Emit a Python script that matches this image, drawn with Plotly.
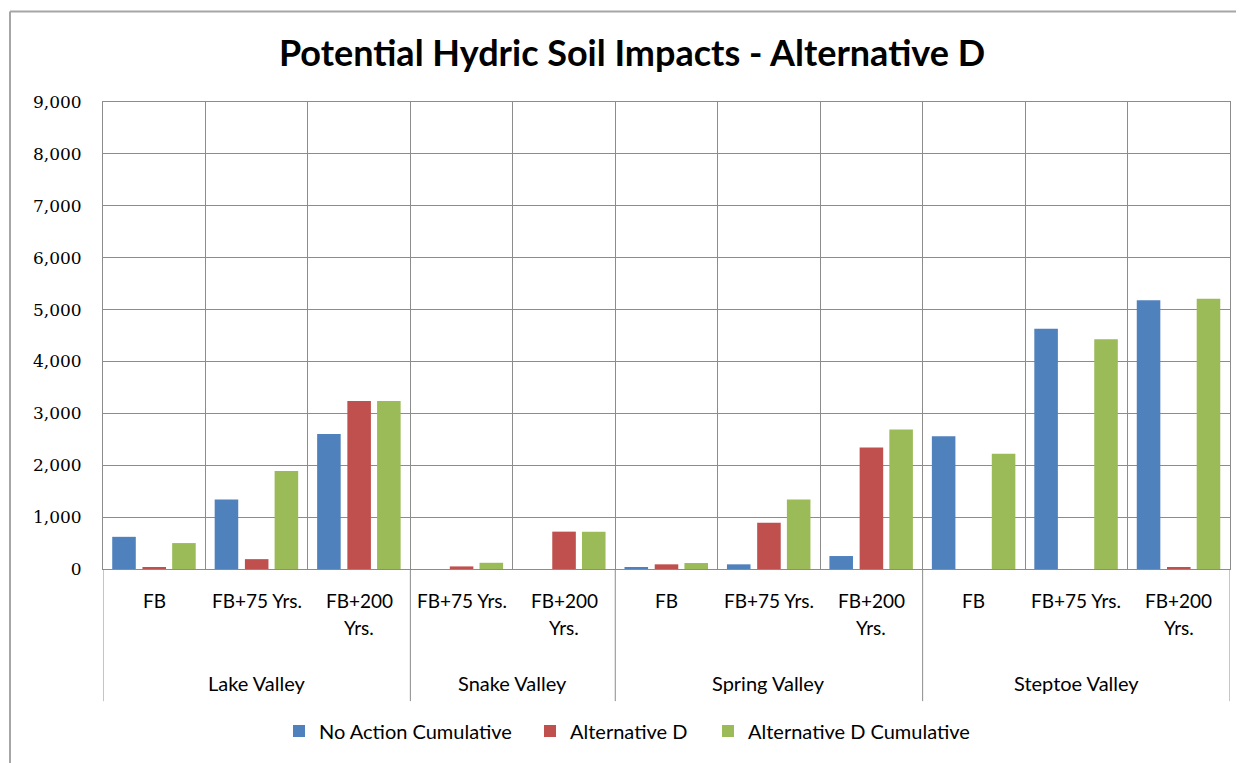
import plotly.graph_objects as go

groups = ["Lake Valley", "Snake Valley", "Spring Valley", "Steptoe Valley"]
group_sizes = [3, 2, 3, 3]
subcats = ["FB", "FB+75 Yrs.", "FB+200<br>Yrs.",
           "FB+75 Yrs.", "FB+200<br>Yrs.",
           "FB", "FB+75 Yrs.", "FB+200<br>Yrs.",
           "FB", "FB+75 Yrs.", "FB+200<br>Yrs."]

no_action_cum = [620, 1340, 2600, 0, 0, 25, 90, 250, 2560, 4630, 5180]
alt_d = [25, 190, 3240, 50, 720, 90, 890, 2340, 0, 0, 25]
alt_d_cum = [500, 1890, 3240, 120, 720, 115, 1340, 2690, 2220, 4430, 5210]

series = [
    ("No Action Cumulative", no_action_cum, "#4F81BD", -0.41, "legend", 319),
    ("Alternative D", alt_d, "#C0504D", -0.115, "legend2", 570),
    ("Alternative D Cumulative", alt_d_cum, "#9BBB59", 0.175, "legend3", 748),
]

FONT = "Lato, Open Sans, sans-serif"
TICKFONT = "DejaVu Serif, Liberation Serif, serif"
GRID = "#8C8C8C"

# page body margin offset (browser default 8px)
OFF = 8
# plot area geometry in screenshot px
L, R, T, B = 103, 1230, 102, 572
W, H = 1244, 763
PH = B - T
PW = R - L

def py(px):
    return (B - px) / PH

def pxx(px):
    return (px - L) / PW

xs = list(range(len(subcats)))

fig = go.Figure()
legends = {}
for name, vals, color, off, leg, text_x in series:
    fig.add_trace(go.Bar(
        x=xs, y=vals, name=name, marker_color=color, marker_line_width=0,
        width=0.23, offset=off, legend=leg,
    ))
    legends[leg] = dict(orientation="h", x=pxx(text_x - 40), xanchor="left",
                        y=py(735), yanchor="middle", bgcolor="rgba(0,0,0,0)",
                        font=dict(family=FONT, size=20, color="#000000"),
                        itemwidth=30)

boundaries = [i - 0.5 for i in range(len(subcats) + 1)]

fig.update_layout(
    width=W - OFF, height=H - OFF,
    margin=dict(l=L - OFF, r=W - R, t=T - OFF, b=H - B),
    paper_bgcolor="white", plot_bgcolor="white",
    barmode="overlay",
    showlegend=True,
    font=dict(family=FONT, color="#000000", size=19),
    title=dict(text="<b>Potential Hydric Soil Impacts - Alternative D</b>",
               x=(632 - OFF) / (W - OFF), xref="container", xanchor="center",
               y=(H - 53) / (H - OFF), yref="container", yanchor="middle",
               font=dict(family=FONT, size=36, color="#000000")),
    xaxis=dict(range=[-0.5, len(subcats) - 0.5], tickvals=boundaries,
               ticktext=[""] * len(boundaries), showgrid=True,
               gridcolor=GRID, gridwidth=1, zeroline=False,
               showline=True, linecolor=GRID, linewidth=1, mirror=True,
               ticks="", fixedrange=True),
    yaxis=dict(range=[0, 9000], dtick=1000, tickformat=",d",
               showgrid=True, gridcolor=GRID, gridwidth=1, zeroline=False,
               showline=True, linecolor=GRID, linewidth=1, mirror=True,
               ticks="outside", ticklen=17, tickcolor="rgba(0,0,0,0)",
               tickfont=dict(family=TICKFONT, size=17, color="#000000")),
    **legends,
)

annotations = []
# subcategory labels
for i, lab in enumerate(subcats):
    for j, line in enumerate(lab.split("<br>")):
        annotations.append(dict(
            x=i, xref="x", y=py(604 + 27 * j), yref="paper",
            text=line, showarrow=False, xanchor="center", yanchor="middle",
            font=dict(family=FONT, size=19, color="#000000")))

# group labels and dividers
shapes = []
start = 0
for g, n in zip(groups, group_sizes):
    center = start + (n - 1) / 2
    annotations.append(dict(
        x=center, xref="x", y=py(687), yref="paper", text=g,
        showarrow=False, xanchor="center", yanchor="middle",
        font=dict(family=FONT, size=20, color="#000000")))
    start += n
edges = [-0.5]
acc = -0.5
for n in group_sizes:
    acc += n
    edges.append(acc)
for e in edges:
    shapes.append(dict(type="line", xref="x", yref="paper", x0=e, x1=e,
                       y0=0, y1=py(705), line=dict(color=GRID, width=1)))

# outer chart border (Excel chart area)
shapes.append(dict(type="line", xref="paper", yref="paper",
                   x0=pxx(10), x1=pxx(10), y0=py(11), y1=py(770),
                   line=dict(color="#A6A6A6", width=2)))
shapes.append(dict(type="line", xref="paper", yref="paper",
                   x0=pxx(10), x1=pxx(1250), y0=py(11), y1=py(11),
                   line=dict(color="#A6A6A6", width=2)))

fig.update_layout(annotations=annotations, shapes=shapes)

fig.write_html("out.html")
